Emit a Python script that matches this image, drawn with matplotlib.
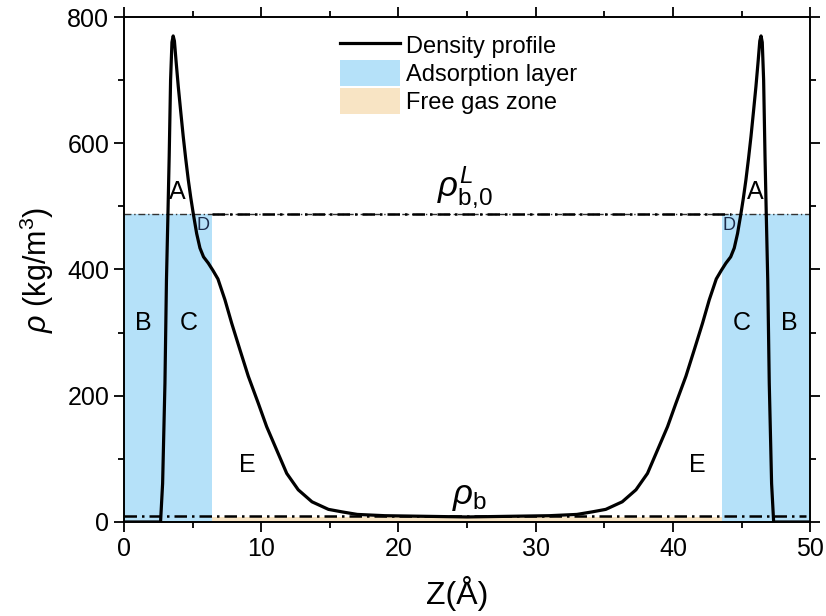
import matplotlib
matplotlib.use("Agg")
import matplotlib.pyplot as plt
from matplotlib.lines import Line2D
from matplotlib.patches import Patch

plt.rcParams['font.family'] = ['Liberation Sans', 'DejaVu Sans']
plt.rcParams['mathtext.fontset'] = 'custom'
plt.rcParams['mathtext.rm'] = 'Liberation Sans'
plt.rcParams['mathtext.it'] = 'Liberation Sans:italic'

# ---- data ----
z_left = [0, 2.67, 2.82, 2.99, 3.10, 3.20, 3.30, 3.40, 3.50, 3.59, 3.68, 3.80, 3.96, 4.14,
          4.32, 4.50, 4.69, 4.87, 5.05, 5.30, 5.54, 5.80, 6.15, 6.50, 6.85, 7.36, 7.85,
          8.45, 9.06, 9.79, 10.4, 11.13, 11.86, 12.7, 13.7, 14.9, 15.9, 17.0, 19.0, 22.0, 25.0]
rho_left = [0, 0, 61, 220, 383, 480, 580, 700, 760, 770, 762, 730, 690, 650,
            611, 576, 542, 514, 489, 457, 434, 420, 410, 398, 385, 352, 315,
            273, 231, 188, 151, 114, 77, 51, 32, 20, 16, 12, 10, 9, 8]
z_right = [28.0, 31.0, 33.0, 34.1, 35.1, 36.3, 37.3, 38.14, 38.87, 39.6, 40.21, 40.94,
           41.55, 42.15, 42.64, 43.15, 43.5, 43.85, 44.2, 44.46, 44.7, 44.95, 45.13,
           45.31, 45.5, 45.68, 45.86, 46.04, 46.2, 46.32, 46.41, 46.5, 46.6, 46.7, 46.8,
           46.9, 47.01, 47.18, 47.33, 50.0]
rho_right = [9, 10, 12, 16, 20, 32, 51, 77, 114, 151, 188, 231,
             273, 315, 352, 385, 398, 410, 420, 434, 457, 489, 514,
             542, 576, 611, 650, 690, 730, 762, 770, 760, 700, 580, 480,
             383, 220, 61, 0, 0]

ads_left = (0.0, 6.4)
ads_right = (43.6, 50.0)
rho_b0 = 488
rho_b = 9.5
free_gas_top = 7.5

region_labels = ['A', 'B', 'C', 'E', 'A', 'B', 'C', 'E']
region_x = [3.87, 1.38, 4.74, 8.97, 46.0, 48.5, 44.97, 41.8]
region_y = [523, 315, 315, 90, 523, 315, 315, 90]
d_x = [5.76, 44.1]
d_y = [470, 470]

blue = '#B5E1F9'
tan = '#F8E4C4'

fig = plt.figure(figsize=(8.26, 6.16), dpi=100)
ax = fig.add_axes([0.150, 0.1526, 0.831, 0.8198])

# regions
ax.fill_between(ads_left, 0, rho_b0, color=blue, lw=0, zorder=1)
ax.fill_between(ads_right, 0, rho_b0, color=blue, lw=0, zorder=1)
ax.fill_between([ads_left[1], ads_right[0]], 0, free_gas_top, color=tan, lw=0, zorder=1)

dd = (0, (5, 2, 1, 2))
ax.plot([0, 50], [rho_b0, rho_b0], color='#333333', lw=1.0, ls=dd, zorder=2)
ax.plot([ads_left[1], ads_right[0] + 0.6], [rho_b0, rho_b0], color='black', lw=1.8, ls=dd, zorder=2)
ax.plot([0, 49.7], [rho_b, rho_b], color='black', lw=1.8, ls=dd, zorder=2)

z = z_left + z_right
rho = rho_left + rho_right
ax.plot(z, rho, color='black', lw=2.3, solid_joinstyle='round', zorder=3)

for t, x, y in zip(region_labels, region_x, region_y):
    ax.text(x, y, t, fontsize=18, ha='center', va='center', zorder=4)
for x, y in zip(d_x, d_y):
    ax.text(x, y, 'D', fontsize=13, ha='center', va='center', color='#1c2b4a', zorder=4)

ax.text(24.85, 530, r'$\rho_{\mathrm{b{,}0}}^{L}$', fontsize=25, ha='center', va='center')
ax.text(25.2, 40, r'$\rho_{\mathrm{b}}$', fontsize=25, ha='center', va='center')

ax.set_xlim(0, 50)
ax.set_ylim(0, 800)
ax.set_xticks([0, 10, 20, 30, 40, 50])
ax.set_xticks([5, 15, 25, 35, 45], minor=True)
ax.set_yticks([0, 200, 400, 600, 800])
ax.set_yticks([100, 300, 500, 700], minor=True)
ax.tick_params(which='both', direction='out', top=True, right=True,
               labeltop=False, labelright=False, width=1.3, labelsize=18)
ax.tick_params(which='major', length=7)
ax.tick_params(which='minor', length=4)
for s in ax.spines.values():
    s.set_linewidth(1.4)

ax.set_xlabel('Z(Å)', fontsize=23)
ax.xaxis.set_label_coords(0.485, -0.106)
ax.set_ylabel(r'$\rho$ (kg/m$^3$)', fontsize=22, labelpad=8)

handles = [Line2D([], [], color='black', lw=2.3),
           Patch(facecolor=blue, edgecolor='none'),
           Patch(facecolor=tan, edgecolor='none')]
labels = ['Density profile', 'Adsorption layer', 'Free gas zone']
ax.legend(handles, labels, loc='upper left', bbox_to_anchor=(0.315, 0.97),
          frameon=False, fontsize=17, handlelength=2.55, handleheight=1.3,
          handletextpad=0.25, labelspacing=0.1, borderpad=0, borderaxespad=0)

fig.savefig('out.png', dpi=100)
